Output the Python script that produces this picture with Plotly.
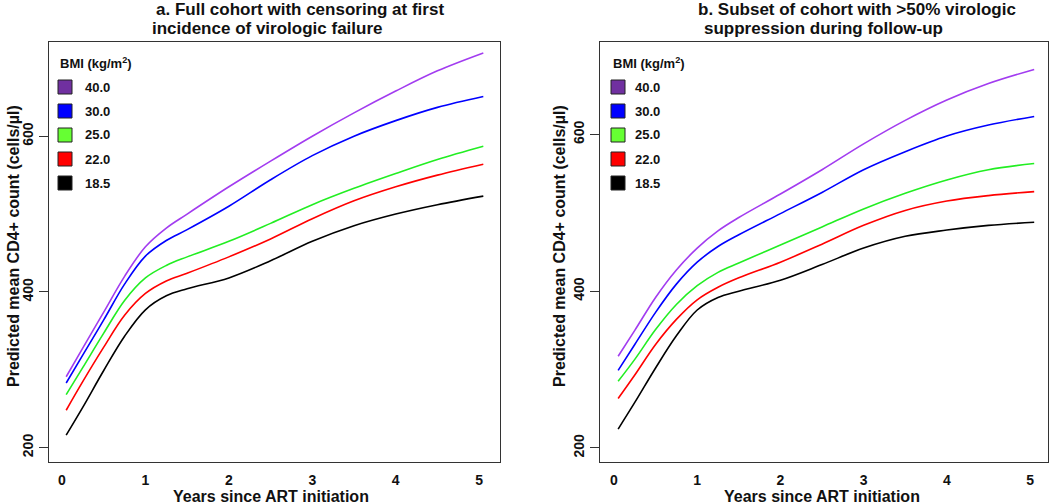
import plotly.graph_objects as go

# ---------------- data ----------------
years = [0.05, 0.25, 0.5, 0.75, 1.0, 1.25, 1.5, 2.0, 2.5, 3.0, 3.5, 4.0, 4.5, 5.05]
bmi_labels = ["40.0", "30.0", "25.0", "22.0", "18.5"]

# Panel a: full cohort with censoring at first virologic failure
a_bmi40 = [291, 328, 374, 420, 458, 482, 500, 535, 568, 600, 630, 658, 684, 707]
a_bmi30 = [283, 319, 364, 410, 446, 466, 480, 510, 544, 575, 600, 620, 637, 651]
a_bmi25 = [268, 303, 347, 389, 418, 434, 445, 465, 488, 512, 533, 552, 570, 587]
a_bmi22 = [248, 285, 329, 370, 398, 414, 424, 445, 468, 494, 517, 535, 550, 564]
a_bmi185 = [216, 252, 299, 343, 377, 395, 404, 418, 440, 465, 485, 500, 512, 523]

# Panel b: subset with >50% virologic suppression
b_bmi40 = [317, 350, 392, 427, 455, 477, 494, 524, 555, 588, 618, 644, 665, 683]
b_bmi30 = [299, 332, 373, 409, 437, 457, 472, 499, 526, 555, 578, 598, 612, 623]
b_bmi25 = [285, 313, 351, 383, 407, 424, 436, 459, 482, 505, 525, 542, 555, 563]
b_bmi22 = [263, 293, 332, 364, 389, 405, 417, 437, 460, 484, 503, 515, 522, 527]
b_bmi185 = [224, 258, 302, 343, 376, 392, 400, 414, 434, 455, 470, 478, 484, 488]

x_ticks = [0, 1, 2, 3, 4, 5]
y_ticks = [200, 400, 600]

line_colors = ["#A23CF0", "#0000FF", "#22EE22", "#FF0000", "#000000"]
legend_colors = ["#7030A0", "#0000FF", "#66FF33", "#FF0000", "#000000"]

titles_a = ["a. Full cohort with censoring at first", "incidence of virologic failure"]
titles_b = ["b. Subset of cohort with >50% virologic", "suppression during follow-up"]
ytitle = "Predicted mean CD4+ count (cells/µl)"
xtitle = "Years since ART initiation"

# ---------------- figure ----------------
W, H = 1050, 504
FONT = "Liberation Sans, Arial, sans-serif"

fig = go.Figure()

panels = [
    (["x", "y"], [a_bmi40, a_bmi30, a_bmi25, a_bmi22, a_bmi185]),
    (["x2", "y2"], [b_bmi40, b_bmi30, b_bmi25, b_bmi22, b_bmi185]),
]
for (xa, ya), series in panels:
    for vals, col, lab in zip(series, line_colors, bmi_labels):
        fig.add_trace(go.Scatter(
            x=years, y=vals, mode="lines", xaxis=xa, yaxis=ya,
            line=dict(color=col, width=1.6, shape="spline", smoothing=1.0),
            name=lab, showlegend=False, hoverinfo="skip"))

def px(xp):
    return xp / W

def py(yp):
    return 1 - yp / H

ydom = [py(462), py(42)]
axis_common = dict(showline=True, linecolor="#333333", linewidth=1.3, mirror=True,
                   showgrid=False, zeroline=False,
                   tickfont=dict(family=FONT, size=14, color="#111111", weight="bold"))

fig.update_layout(
    width=W, height=H, margin=dict(l=0, r=0, t=0, b=0),
    plot_bgcolor="white", paper_bgcolor="white",
    xaxis=dict(domain=[px(49), px(500)], range=[-0.156, 5.25], anchor="y",
               tickvals=x_ticks, ticks="", ticklabelstandoff=5, **axis_common),
    yaxis=dict(domain=ydom, range=[181.5, 721], anchor="x",
               tickvals=y_ticks, ticks="outside", ticklen=9, tickcolor="#333333",
               tickangle=-90, **axis_common),
    xaxis2=dict(domain=[px(600), px(1048)], range=[-0.168, 5.216], anchor="y2",
                tickvals=x_ticks, ticks="", ticklabelstandoff=5, **axis_common),
    yaxis2=dict(domain=ydom, range=[182, 718], anchor="x2",
                tickvals=y_ticks, ticks="outside", ticklen=9, tickcolor="#333333",
                tickangle=-90, **axis_common),
)

anns = []
shapes = []
tfont = dict(family=FONT, size=17, color="#111111")
# titles
for lines, xs in [(titles_a, (154, 150)), (titles_b, (696, 702))]:
    anns.append(dict(text="<b>%s</b>" % lines[0], x=px(xs[0]), y=py(9), xref="paper", yref="paper",
                     xanchor="left", yanchor="middle", showarrow=False, font=tfont))
    anns.append(dict(text="<b>%s</b>" % lines[1], x=px(xs[1]), y=py(28), xref="paper", yref="paper",
                     xanchor="left", yanchor="middle", showarrow=False, font=tfont))
# axis titles
afont = dict(family=FONT, size=16, color="#111111")
for xc in (13, 559):
    anns.append(dict(text="<b>%s</b>" % ytitle, x=px(xc), y=py(246), xref="paper", yref="paper",
                     textangle=-90, xanchor="center", yanchor="middle", showarrow=False, font=afont))
for xc in (271, 822):
    anns.append(dict(text="<b>%s</b>" % xtitle, x=px(xc), y=py(496), xref="paper", yref="paper",
                     xanchor="center", yanchor="middle", showarrow=False, font=afont))
# legends
lfont = dict(family=FONT, size=13, color="#111111")
for sq_x, txt_x in [(58, 83), (611, 633)]:
    anns.append(dict(text="<b>BMI (kg/m<sup>2</sup>)</b>", x=px(sq_x), y=py(63), xref="paper",
                     yref="paper", xanchor="left", yanchor="middle", showarrow=False,
                     font=dict(family=FONT, size=13, color="#111111")))
    for i, (lab, col) in enumerate(zip(bmi_labels, legend_colors)):
        yc = 87 + 24 * i
        shapes.append(dict(type="rect", xref="paper", yref="paper",
                           x0=px(sq_x), x1=px(sq_x + 14), y0=py(yc - 7), y1=py(yc + 7),
                           fillcolor=col, line=dict(color="#222222", width=1)))
        anns.append(dict(text="<b>%s</b>" % lab, x=px(txt_x), y=py(yc), xref="paper", yref="paper",
                         xanchor="left", yanchor="middle", showarrow=False, font=lfont))

fig.update_layout(annotations=anns, shapes=shapes)
fig.write_html("out.html", config={"displayModeBar": False},
               post_script="document.body.style.margin='0';document.body.style.overflow='hidden';")
